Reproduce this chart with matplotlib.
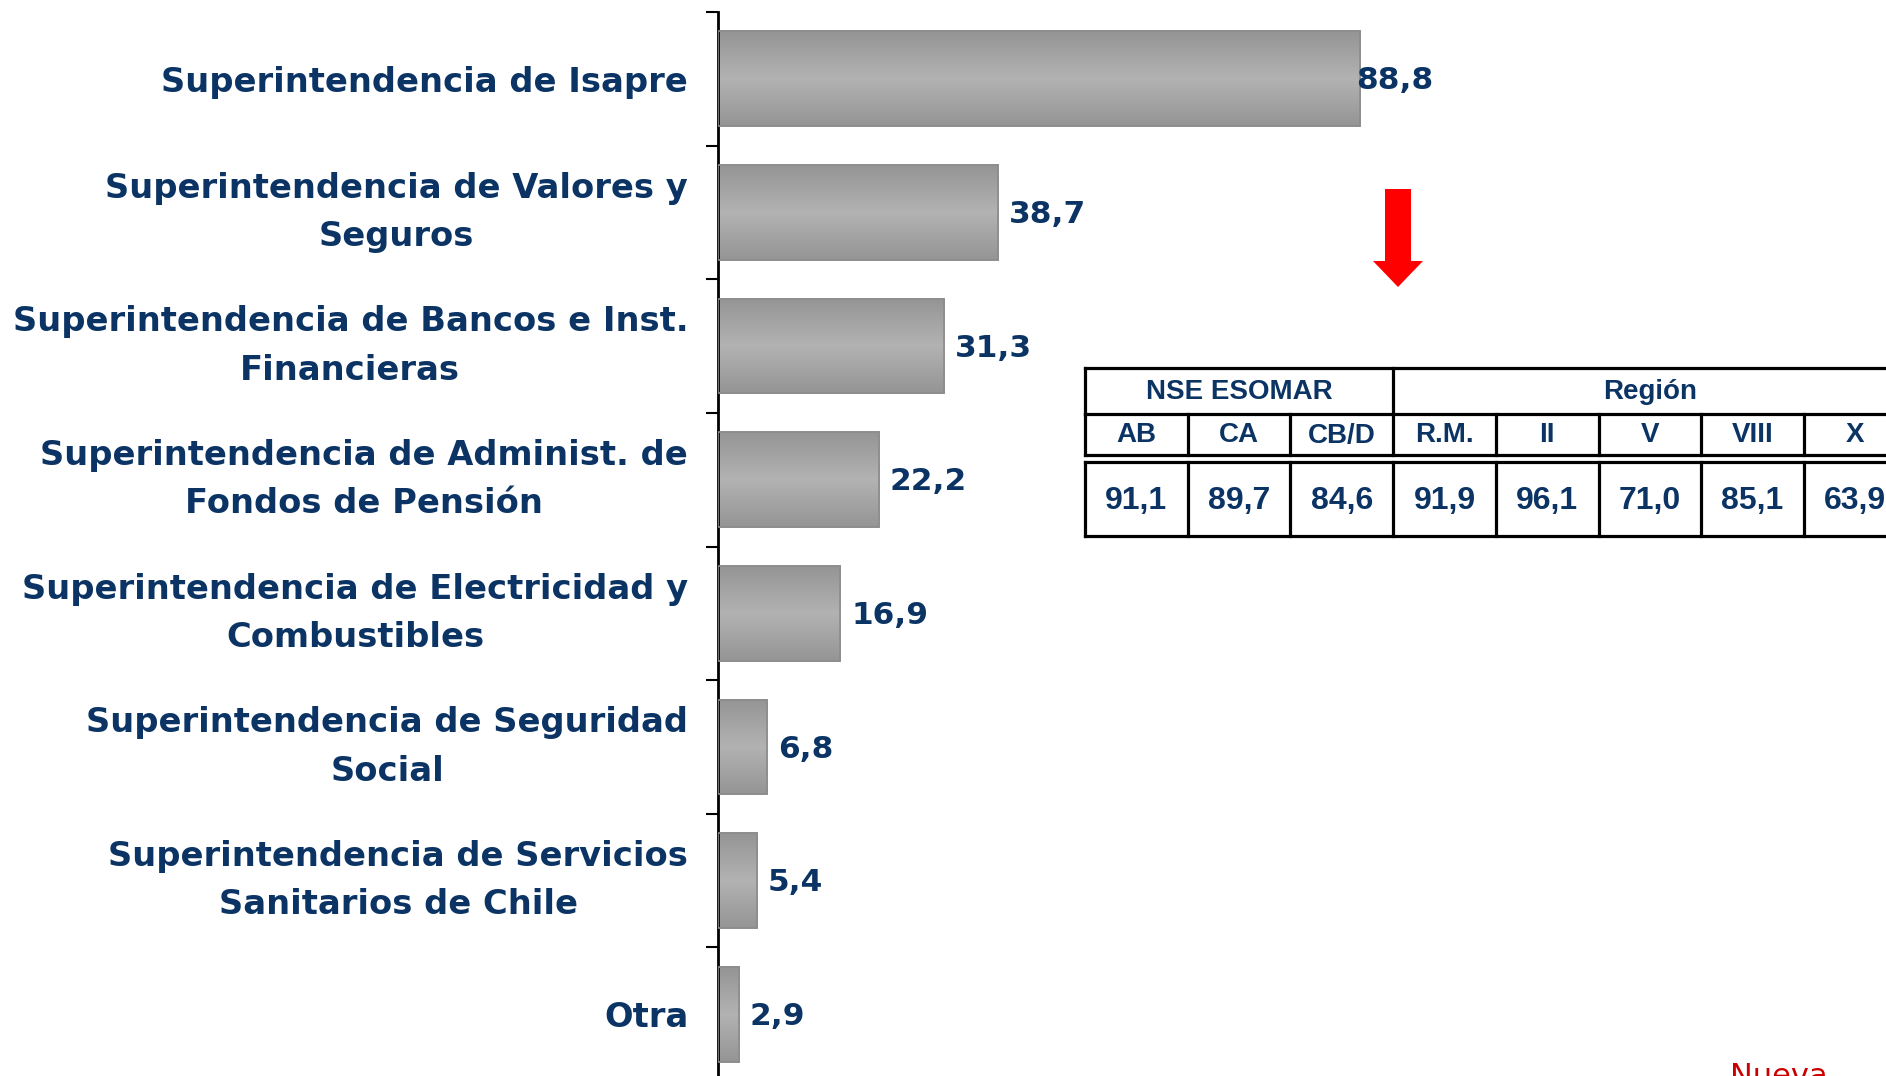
import numpy as np
import matplotlib
matplotlib.use("Agg")
import matplotlib.pyplot as plt
from matplotlib.colors import LinearSegmentedColormap
from matplotlib.patches import Polygon

# bar chart data
categories = [
    "Superintendencia de Isapre",
    "Superintendencia de Valores y\nSeguros",
    "Superintendencia de Bancos e Inst.\nFinancieras",
    "Superintendencia de Administ. de\nFondos de Pensión",
    "Superintendencia de Electricidad y\nCombustibles",
    "Superintendencia de Seguridad\nSocial",
    "Superintendencia de Servicios\nSanitarios de Chile",
    "Otra",
]
values = [88.8, 38.7, 31.3, 22.2, 16.9, 6.8, 5.4, 2.9]

# table data
group_names = ["NSE ESOMAR", "Región"]
group_spans = [3, 5]
col_names = ["AB", "CA", "CB/D", "R.M.", "II", "V", "VIII", "X"]
col_values = [91.1, 89.7, 84.6, 91.9, 96.1, 71.0, 85.1, 63.9]

NAVY = "#0B3465"
TFONT = ["Liberation Sans", "DejaVu Sans"]
W, H = 1886, 1076
fig = plt.figure(figsize=(W / 100, H / 100), dpi=100)

# main axes: axis line at x=718 px, top at 12 px, 133.6 px per category
ax = fig.add_axes([718 / W, (H - 1081) / H, (W - 718) / W, 1069 / H])
y = np.arange(len(values))
bh = 0.71
bars = ax.barh(y, values, height=bh, color="#A9A9A9", edgecolor="#8C8C8C",
               linewidth=1.2, zorder=2)

cmap = LinearSegmentedColormap.from_list("g", ["#B2B2B2", "#959595"])
grad = np.abs(np.linspace(-1, 1, 80))[:, None]
for b, v, yy in zip(bars, values, y):
    im = ax.imshow(grad, cmap=cmap, aspect="auto", zorder=2.5,
                   extent=(0, v, yy + bh / 2, yy - bh / 2))
    im.set_clip_path(b)
    ax.add_patch(plt.Rectangle((0, yy - bh / 2), v, bh, fill=False,
                               edgecolor="#8C8C8C", linewidth=1.2, zorder=3))

ax.set_xlim(0, 161.5)
ax.set_ylim(len(values) - 0.5, -0.5)

label_pad = [-4] + [11] * (len(values) - 1)
for v, yy, p in zip(values, y, label_pad):
    ax.annotate(f"{v:.1f}".replace(".", ","), (v, yy), xytext=(p * 0.72, -1.5),
                textcoords="offset points", va="center", ha="left",
                fontsize=22.5, fontweight="bold", color=NAVY, zorder=4)

ax.set_yticks(y)
ax.set_yticklabels(categories, fontsize=24.3, fontweight="bold", color=NAVY,
                   linespacing=1.6)
for t in ax.get_yticklabels():
    t.set_multialignment("center")
    if "\n" in t.get_text():
        t.set_verticalalignment("center")
ax.set_yticks(np.arange(-0.5, len(values) + 0.5, 1), minor=True)
ax.tick_params(axis="y", which="major", length=0, pad=21.5)
ax.tick_params(axis="y", which="minor", length=8.6, width=1.5, direction="out")
ax.set_xticks([])
for s in ["top", "right", "bottom"]:
    ax.spines[s].set_visible(False)
ax.spines["left"].set_linewidth(2)

# overlay in pixel space for the table, arrow and footer text
ov = fig.add_axes([0, 0, 1, 1])
ov.set_xlim(0, W)
ov.set_ylim(H, 0)
ov.axis("off")

x0, cw = 1085, 102.7
r_top, r1, r2, r2b, r3 = 368, 414, 455, 462, 536
ncol = len(col_names)
edges = [x0 + i * cw for i in range(ncol + 1)]
lw = 2.3
for yl in [r_top, r1, r2, r2b, r3]:
    ov.plot([x0, edges[-1]], [yl, yl], color="black", lw=lw,
            solid_capstyle="projecting")
# group header verticals
k = 0
ov.plot([x0, x0], [r_top, r1], color="black", lw=lw)
for gname, span in zip(group_names, group_spans):
    xa, xb = edges[k], edges[k + span]
    ov.plot([xb, xb], [r_top, r1], color="black", lw=lw)
    ov.text((xa + xb) / 2, (r_top + r1) / 2 + 1, gname, ha="center",
            va="center", fontsize=20, fontweight="bold", color=NAVY,
            family=TFONT)
    k += span
for xe in edges:
    ov.plot([xe, xe], [r1, r2], color="black", lw=lw)
    ov.plot([xe, xe], [r2b, r3], color="black", lw=lw)
for i, (cn, cv) in enumerate(zip(col_names, col_values)):
    xc = (edges[i] + edges[i + 1]) / 2
    ov.text(xc, (r1 + r2) / 2 + 1, cn, ha="center", va="center", fontsize=20,
            fontweight="bold", color=NAVY, family=TFONT)
    ov.text(xc, (r2b + r3) / 2 + 2, f"{cv:.1f}".replace(".", ","), ha="center",
            va="center", fontsize=23, fontweight="bold", color=NAVY,
            family=TFONT)

# red down arrow
arrow = Polygon([(1385, 189), (1411, 189), (1411, 261), (1423, 261),
                 (1398, 287), (1373, 261), (1385, 261)],
                closed=True, facecolor="#FF0000", edgecolor="none")
ov.add_patch(arrow)

ov.text(1730, 1062, "Nueva", color="#CC0000", fontsize=22, ha="left", va="top")

fig.savefig("out.png", dpi=100)
